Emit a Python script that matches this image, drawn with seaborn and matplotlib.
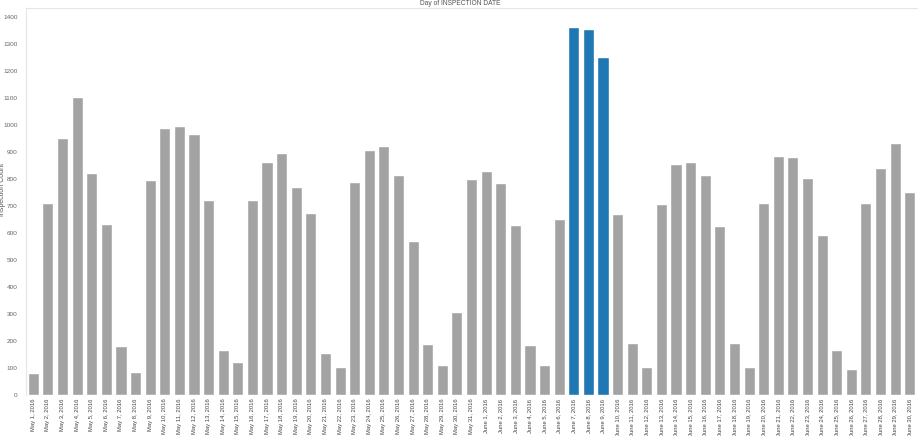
import pandas as pd
import numpy as np
import matplotlib
matplotlib.use("Agg")
import matplotlib.pyplot as plt
import seaborn as sns

# 日期标签
dates = [f"May {d}, 2016" for d in range(1, 32)] + [f"June {d}, 2016" for d in range(1, 31)]

# 每日检查次数
counts = [
    81, 710, 954, 1105, 824, 634, 180, 85, 795, 991,
    996, 967, 721, 164, 121, 722, 863, 898, 772, 674,
    154, 104, 788, 909, 923, 816, 571, 188, 109, 307,
    801,
    829, 785, 630, 183, 110, 652, 1364, 1356, 1252, 671,
    190, 104, 707, 857, 863, 815, 625, 190, 104, 712,
    886, 882, 803, 591, 164, 96, 712, 841, 933, 752,
]

# 高亮的日期
highlight = ["June 7, 2016", "June 8, 2016", "June 9, 2016"]

df = pd.DataFrame({"date": dates, "count": counts})
df["sel"] = np.where(df["date"].isin(highlight), "yes", "no")

sns.set_style("white")
plt.rcParams['font.family'] = ['Liberation Sans', 'DejaVu Sans']

fig = plt.figure(figsize=(9.2, 4.36), dpi=100)
ax = fig.add_axes([0.0283, 0.095, 0.9685, 0.8867])

sns.barplot(data=df, x="date", y="count", hue="sel",
            palette={"no": "#a3a3a3", "yes": "#1f77b4"},
            dodge=False, width=0.76, legend=False, ax=ax, saturation=1)

ax.set_xlim(-0.5, len(dates) - 0.5)
ax.set_ylim(0, 1435)
ax.set_yticks(range(0, 1401, 100))
ax.tick_params(axis="y", labelsize=4.6, colors="#666666", length=0, pad=6)
ax.tick_params(axis="x", labelsize=4.2, colors="#444444", length=0, pad=3)
plt.setp(ax.get_xticklabels(), rotation=90)

ax.set_xlabel("")
ax.set_ylabel("Inspection Count", fontsize=5, color="#555555")
ax.yaxis.set_label_coords(-0.0225, 0.53)

for s in ["right", "bottom"]:
    ax.spines[s].set_visible(False)
for s in ["left", "top"]:
    ax.spines[s].set_color("#e6e6e6")
    ax.spines[s].set_linewidth(0.8)

fig.text(0.5, 0.991, "Day of INSPECTION DATE", ha="center", va="center",
         fontsize=4.8, color="#555555")

fig.savefig("out.png", dpi=100)
